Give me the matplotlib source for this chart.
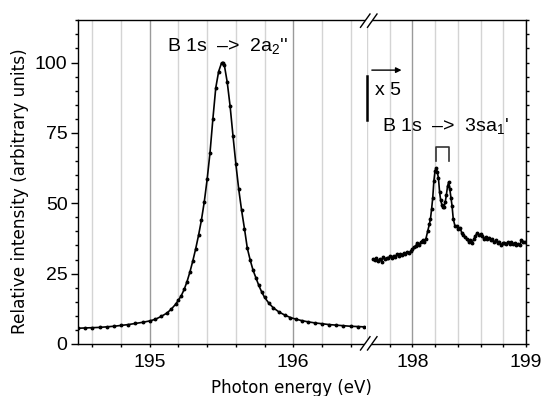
import numpy as np
import matplotlib.pyplot as plt
from matplotlib.patches import Polygon
from matplotlib.lines import Line2D
from matplotlib.ticker import MultipleLocator, FormatStrFormatter

plt.rcParams['font.family'] = ['Liberation Sans', 'DejaVu Sans']
plt.rcParams['mathtext.fontset'] = 'custom'
plt.rcParams['mathtext.rm'] = 'Liberation Sans'

# left segment: B 1s -> 2a2'' resonance
left_x = [194.50, 194.55, 194.60, 194.65, 194.70, 194.75, 194.80, 194.85, 194.90, 194.95,
          195.00, 195.04, 195.08, 195.12, 195.15, 195.18, 195.20, 195.22, 195.24, 195.26,
          195.28, 195.30, 195.32, 195.34, 195.36, 195.38, 195.40, 195.42, 195.44, 195.46,
          195.48, 195.50, 195.51, 195.52, 195.54, 195.56, 195.58, 195.60, 195.62, 195.64,
          195.66, 195.68, 195.70, 195.72, 195.74, 195.76, 195.78, 195.80, 195.83, 195.86,
          195.90, 195.94, 195.98, 196.02, 196.06, 196.10, 196.15, 196.20, 196.25, 196.30,
          196.35, 196.40, 196.45, 196.49]
left_y = [5.6, 5.7, 5.8, 5.9, 6.1, 6.3, 6.6, 6.9, 7.3, 7.7,
          8.2, 8.8, 9.8, 11.0, 12.4, 14.1, 15.6, 17.2, 19.4, 22.2,
          25.6, 29.5, 33.8, 38.6, 44.0, 50.5, 58.5, 68.0, 80.0, 91.0,
          96.8, 99.8, 100.0, 99.0, 93.0, 84.5, 74.0, 64.0, 55.0, 47.5,
          41.0, 34.0, 29.8, 26.2, 23.5, 20.8, 18.5, 16.6, 14.5, 12.9,
          11.4, 10.3, 9.4, 8.8, 8.3, 7.9, 7.5, 7.2, 6.9, 6.7,
          6.5, 6.3, 6.2, 6.1]

# right segment: B 1s -> 3sa1' (x 5)
right_x = [197.655, 197.67, 197.685, 197.70, 197.715, 197.73, 197.745, 197.76, 197.775, 197.79,
           197.805, 197.82, 197.835, 197.85, 197.865, 197.88, 197.895, 197.91, 197.925, 197.94,
           197.955, 197.97, 197.985, 198.00, 198.015, 198.03, 198.045, 198.06, 198.075, 198.09,
           198.105, 198.12, 198.135, 198.15, 198.16, 198.17, 198.18, 198.19, 198.20, 198.21,
           198.22, 198.23, 198.24, 198.25, 198.26, 198.27, 198.28, 198.29, 198.30, 198.31,
           198.32, 198.33, 198.34, 198.35, 198.36, 198.375, 198.39, 198.405, 198.42, 198.435,
           198.45, 198.465, 198.48, 198.495, 198.51, 198.525, 198.54, 198.555, 198.57, 198.585,
           198.60, 198.615, 198.63, 198.645, 198.66, 198.675, 198.69, 198.705, 198.72, 198.735,
           198.75, 198.765, 198.78, 198.795, 198.81, 198.825, 198.84, 198.855, 198.87, 198.885,
           198.90, 198.915, 198.93, 198.945, 198.96, 198.975, 198.99]
right_y = [30.2, 29.8, 30.6, 29.4, 30.3, 29.3, 30.8, 30.1, 30.6, 30.4,
           31.2, 30.7, 31.4, 30.9, 31.8, 31.2, 32.0, 31.6, 32.3, 31.8,
           32.6, 32.2, 33.0, 33.6, 34.4, 34.9, 35.8, 35.3, 36.2, 36.8,
           36.4, 37.4, 40.0, 42.5, 44.5, 48.0, 52.0, 58.0, 61.5, 62.5,
           61.0, 59.0, 54.0, 51.0, 49.5, 48.6, 48.8, 50.5, 53.0, 56.0,
           57.5, 55.0, 52.0, 49.0, 44.5, 42.0, 41.8, 40.8, 41.3, 39.5,
           38.6, 38.0, 37.2, 36.4, 36.8, 36.0, 37.2, 38.4, 39.4, 38.6,
           39.0, 38.2, 37.4, 38.0, 37.2, 37.8, 36.8, 37.2, 36.2, 36.8,
           35.8, 36.4, 35.2, 35.8, 36.0, 35.4, 36.3, 35.6, 36.1, 35.5,
           35.9, 35.2, 35.6, 35.0, 36.8, 36.4, 36.3]

W, H = 543, 396
fig = plt.figure(figsize=(5.43, 3.96), dpi=100)

def fx(px):
    return px / W

def fy(py):
    return 1 - py / H

bottom, top = fy(344), fy(20.3)
ax1 = fig.add_axes([fx(78), bottom, fx(365) - fx(78), top - bottom])
ax2 = fig.add_axes([fx(366.8), bottom, fx(526) - fx(366.8), top - bottom])

ax1.set_xlim(194.5, 196.5)
ax2.set_xlim(197.6, 199.0)

for ax in (ax1, ax2):
    ax.set_ylim(0, 115)
    ax.set_axisbelow(True)
    ax.xaxis.set_major_locator(MultipleLocator(1))
    ax.xaxis.set_minor_locator(MultipleLocator(0.2))
    ax.xaxis.set_major_formatter(FormatStrFormatter('%d'))
    ax.yaxis.set_major_locator(MultipleLocator(25))
    ax.yaxis.set_minor_locator(MultipleLocator(5))
    ax.grid(True, axis='x', which='major', color='#9a9a9a', lw=1)
    ax.grid(True, axis='x', which='minor', color='#d4d4d4', lw=1)
    ax.tick_params(axis='x', which='both', direction='out', length=2.5, width=1,
                   labelsize=14, pad=5)
    for s in ax.spines.values():
        s.set_linewidth(1)

ax1.spines['right'].set_visible(False)
ax2.spines['left'].set_visible(False)
ax1.tick_params(axis='y', which='major', direction='out', length=5, width=1,
                labelsize=14, pad=2.5)
ax1.tick_params(axis='y', which='minor', direction='out', length=2.2, width=1)
ax2.yaxis.tick_right()
ax2.tick_params(axis='y', which='both', direction='out', length=2, width=1,
                labelright=False)

ax1.plot(left_x, left_y, color='black', lw=1.2, marker='o', ms=1.8)
ax2.plot(right_x, right_y, color='black', lw=1.2, marker='o', ms=1.8)

ax1.text(195.12, 103.8, "B 1s  \u2013>  2a$_\\mathrm{2}$''", fontsize=14, va='baseline')
ax2.text(197.73, 75.4, "B 1s  \u2013>  3sa$_\\mathrm{1}$'", fontsize=14, va='baseline')
ax2.text(197.67, 88.4, "x 5", fontsize=14, va='baseline')

# scale marker
ax2.plot([197.605, 197.605], [79.5, 95.1], color='black', lw=1.8, clip_on=False)
ax2.annotate('', xy=(197.93, 97.3), xytext=(197.62, 97.3),
             arrowprops=dict(arrowstyle='-|>', lw=1, color='black', mutation_scale=8))
# bracket over the split peaks
ax2.plot([198.21, 198.21, 198.32, 198.32], [65.1, 70.0, 70.0, 65.1], color='#333333', lw=1.2)

# axis break marks
for yb, yt in ((27.3, 14.0), (350.0, 336.7)):
    fig.patches.append(Polygon([[fx(360.5), fy(yb)], [fx(367.5), fy(yb)],
                                [fx(377.0), fy(yt)], [fx(370.0), fy(yt)]],
                               closed=True, transform=fig.transFigure,
                               facecolor='white', edgecolor='none', zorder=5))
    for x0 in (360.5, 367.5):
        fig.lines.append(Line2D([fx(x0), fx(x0 + 9.5)], [fy(yb), fy(yt)],
                                transform=fig.transFigure, color='black', lw=1, zorder=6))

fig.text(fx(291), fy(388), "Photon energy (eV)", fontsize=12, ha='center', va='center',
         family='DejaVu Sans')
fig.text(fx(20), fy(191), "Relative intensity (arbitrary units)", fontsize=12.2,
         ha='center', va='center', rotation=90, family='DejaVu Sans')

fig.savefig('out.png', dpi=100)
